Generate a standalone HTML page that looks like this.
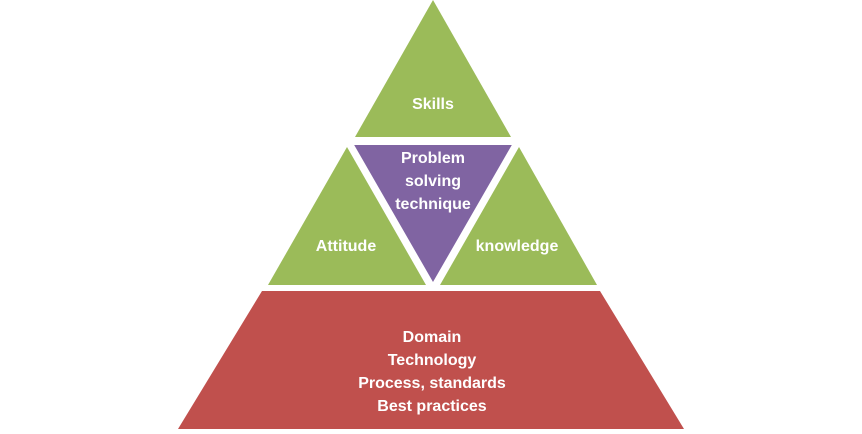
<!DOCTYPE html>
<html><head><style>
html,body{margin:0;padding:0;background:#fff;}
svg text{font-family:"Liberation Sans",sans-serif;font-weight:bold;font-size:16px;fill:#fff;text-anchor:middle;}
</style></head><body>
<svg width="862" height="429" viewBox="0 0 862 429" xmlns="http://www.w3.org/2000/svg">
<polygon points="433,0 511,137 355,137" fill="#9BBB59"/>
<polygon points="347,147 426,285 268,285" fill="#9BBB59"/>
<polygon points="519,147 597,285 440,285" fill="#9BBB59"/>
<polygon points="349,142 517,142 433,288" fill="#8064A2" stroke="#fff" stroke-width="6" stroke-linejoin="miter"/>
<polygon points="262,291 600,291 684,429 178,429" fill="#C0504D"/>
<text x="433" y="109">Skills</text>
<text x="433" y="163">Problem</text>
<text x="433" y="186">solving</text>
<text x="433" y="209">technique</text>
<text x="346" y="251">Attitude</text>
<text x="517" y="251">knowledge</text>
<text x="432" y="342">Domain</text>
<text x="432" y="365">Technology</text>
<text x="432" y="388">Process, standards</text>
<text x="432" y="411">Best practices</text>
</svg>
</body></html>
